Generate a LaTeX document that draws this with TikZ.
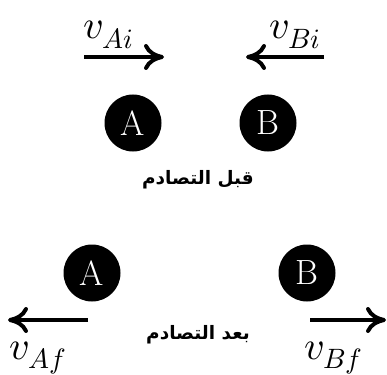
\documentclass[tikz,border=0pt]{standalone}
\usepackage{fontspec}
\usepackage{unicode-math}
\setmathfont{Latin Modern Math}
\usetikzlibrary{positioning}
\usetikzlibrary{arrows.meta}
\newfontfamily\arabicfont[Script=Arabic]{DejaVu Sans}
\TeXXeTstate=1

\tikzset{
	ball/.style={circle,fill=black,text=white,minimum size=57pt,inner sep=0pt,font=\fontsize{35}{38}\selectfont},
	vel/.style={line width=4pt,-{Computer Modern Rightarrow[length=20pt,width=26pt,line width=4pt]}},
	vlabel/.style={anchor=base west,inner sep=0pt,font=\fontsize{40}{44}\selectfont},
	stage/.style={font=\fontsize{18.5}{22}\selectfont\arabicfont\bfseries}
}

\begin{document}
\begin{tikzpicture}[x=1pt,y=-1pt]
				
				\useasboundingbox (0,0) rectangle (387,374);
				
				% before
				\node[ball] (A1) at (133,123) {A};
				\node[ball] (B1) at (268,123) {B};
				\node[stage] (T1) at (198,180) {\beginR قبل التصادم\endR};
				
				\coordinate (a1s) at (84,57);
				\coordinate (a1e) at (164,57);
				\coordinate (b1s) at (324,57);
				\coordinate (b1e) at (246,57);
				\node[vlabel] (vAi) at (83,39) {$v_{Ai}$};
				\node[vlabel] (vBi) at (269,39) {$v_{Bi}$};
				
				\draw[vel] (a1s) -- (a1e);
				\draw[vel] (b1s) -- (b1e);
				
				% after
				\node[ball] (A2) at (92,273) {A};
				\node[ball] (B2) at (307,273) {B};
				\node[stage] (T2) at (198,335) {\beginR بعد التصادم\endR};
				
				\coordinate (a2s) at (88,320);
				\coordinate (a2e) at (8,320);
				\coordinate (b2s) at (310,320);
				\coordinate (b2e) at (386,320);
				\node[vlabel] (vAf) at (9,359) {$v_{Af}$};
				\node[vlabel] (vBf) at (304,359) {$v_{Bf}$};
				
				\draw[vel] (a2s) -- (a2e);
				\draw[vel] (b2s) -- (b2e);
				
			\end{tikzpicture}
\end{document}
